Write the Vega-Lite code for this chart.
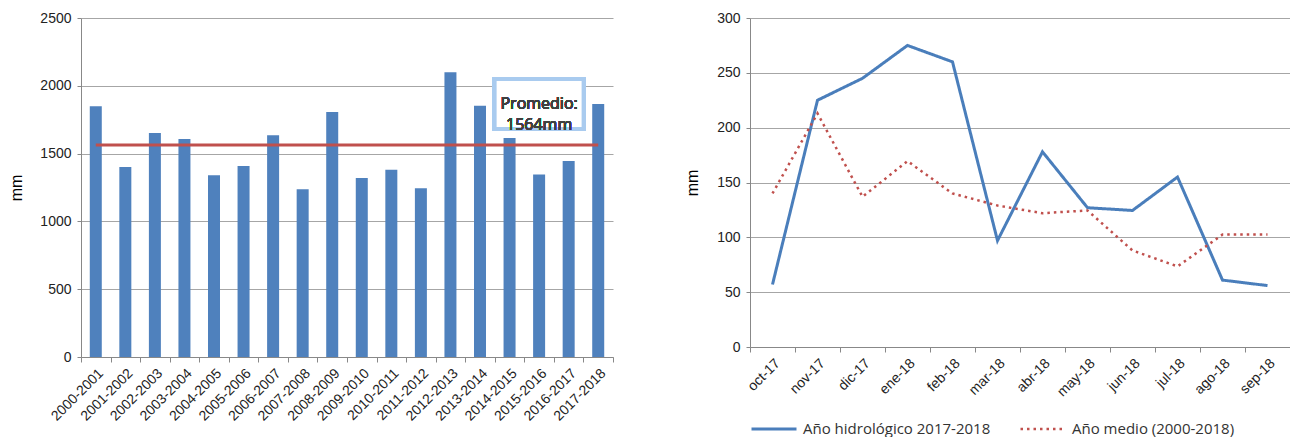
{
  "$schema": "https://vega.github.io/schema/vega-lite/v6.json",
  "background": "white",
  "padding": {"left": 8, "top": 11, "right": 0, "bottom": 0},
  "spacing": 137,
  "bounds": "flush",
  "resolve": {"legend": {"color": "independent", "strokeDash": "independent", "strokeWidth": "independent"}},
  "config": {
    "view": {"stroke": null},
    "axis": {
      "labelFont": "Liberation Sans", "labelFontSize": 14, "labelColor": "#222",
      "titleFont": "Liberation Sans", "titleFontSize": 16, "titleFontWeight": "normal", "titleColor": "#000",
      "domainColor": "#888", "tickColor": "#888", "gridColor": "#A6A6A6", "tickSize": 4, "labelPadding": 6
    },
    "legend": {"labelFont": "Open Sans", "labelFontSize": 15, "labelColor": "#333", "labelLimit": 400}
  },
  "hconcat": [
    {
      "width": 532,
      "height": 339,
      "data": {"values": [
        {"year": "2000-2001", "mm": 1849},
        {"year": "2001-2002", "mm": 1401},
        {"year": "2002-2003", "mm": 1652},
        {"year": "2003-2004", "mm": 1608},
        {"year": "2004-2005", "mm": 1340},
        {"year": "2005-2006", "mm": 1409},
        {"year": "2006-2007", "mm": 1635},
        {"year": "2007-2008", "mm": 1237},
        {"year": "2008-2009", "mm": 1807},
        {"year": "2009-2010", "mm": 1320},
        {"year": "2010-2011", "mm": 1381},
        {"year": "2011-2012", "mm": 1244},
        {"year": "2012-2013", "mm": 2100},
        {"year": "2013-2014", "mm": 1853},
        {"year": "2014-2015", "mm": 1615},
        {"year": "2015-2016", "mm": 1345},
        {"year": "2016-2017", "mm": 1445},
        {"year": "2017-2018", "mm": 1866}
      ]},
      "layer": [
        {
          "mark": {"type": "bar", "color": "#4F81BD", "width": 12},
          "encoding": {
            "x": {"field": "year", "type": "nominal", "sort": null,
              "scale": {"type": "band", "paddingInner": 0, "paddingOuter": 0},
              "axis": {"title": null, "labelAngle": -45, "tickBand": "extent", "tickSize": 5, "grid": false, "labelPadding": 4}},
            "y": {"field": "mm", "type": "quantitative",
              "scale": {"domain": [0, 2500], "nice": false},
              "axis": {"title": "mm", "format": "d", "values": [0, 500, 1000, 1500, 2000, 2500], "grid": true, "titlePadding": 15, "labelPadding": 6}}
          }
        },
        {
          "mark": {"type": "line", "color": "#C0504D", "strokeWidth": 3},
          "encoding": {
            "x": {"field": "year", "type": "nominal", "sort": null, "bandPosition": 0.5},
            "y": {"datum": 1564, "scale": {"domain": [0, 2500], "nice": false}}
          }
        },
        {
          "mark": {"type": "bar", "width": 89, "fill": "white", "stroke": "#A9CBEF", "strokeWidth": 4},
          "encoding": {
            "x": {"datum": "2015-2016"},
            "y": {"datum": 1681, "scale": {"domain": [0, 2500], "nice": false}},
            "y2": {"datum": 2050}
          }
        },
        {
          "mark": {"type": "text", "font": "Open Sans", "fontSize": 16, "fontWeight": "normal", "fill": "#404040", "stroke": null, "lineHeight": 21, "align": "center", "baseline": "middle"},
          "encoding": {
            "x": {"datum": "2015-2016", "bandPosition": 0.5},
            "y": {"datum": 1866, "scale": {"domain": [0, 2500], "nice": false}},
            "text": {"value": ["Promedio:", "1564mm"]}
          }
        }
      ]
    },
    {
      "width": 540,
      "height": 329,
      "data": {"values": [
        {"mes": "oct-17", "serie": "Año hidrológico 2017-2018", "mm": 57},
        {"mes": "nov-17", "serie": "Año hidrológico 2017-2018", "mm": 225},
        {"mes": "dic-17", "serie": "Año hidrológico 2017-2018", "mm": 245},
        {"mes": "ene-18", "serie": "Año hidrológico 2017-2018", "mm": 275},
        {"mes": "feb-18", "serie": "Año hidrológico 2017-2018", "mm": 260},
        {"mes": "mar-18", "serie": "Año hidrológico 2017-2018", "mm": 97},
        {"mes": "abr-18", "serie": "Año hidrológico 2017-2018", "mm": 178},
        {"mes": "may-18", "serie": "Año hidrológico 2017-2018", "mm": 127},
        {"mes": "jun-18", "serie": "Año hidrológico 2017-2018", "mm": 124.5},
        {"mes": "jul-18", "serie": "Año hidrológico 2017-2018", "mm": 155},
        {"mes": "ago-18", "serie": "Año hidrológico 2017-2018", "mm": 61},
        {"mes": "sep-18", "serie": "Año hidrológico 2017-2018", "mm": 56},
        {"mes": "oct-17", "serie": "Año medio (2000-2018)", "mm": 140},
        {"mes": "nov-17", "serie": "Año medio (2000-2018)", "mm": 213},
        {"mes": "dic-17", "serie": "Año medio (2000-2018)", "mm": 137},
        {"mes": "ene-18", "serie": "Año medio (2000-2018)", "mm": 169.5},
        {"mes": "feb-18", "serie": "Año medio (2000-2018)", "mm": 140},
        {"mes": "mar-18", "serie": "Año medio (2000-2018)", "mm": 129},
        {"mes": "abr-18", "serie": "Año medio (2000-2018)", "mm": 122},
        {"mes": "may-18", "serie": "Año medio (2000-2018)", "mm": 124.5},
        {"mes": "jun-18", "serie": "Año medio (2000-2018)", "mm": 88},
        {"mes": "jul-18", "serie": "Año medio (2000-2018)", "mm": 73.5},
        {"mes": "ago-18", "serie": "Año medio (2000-2018)", "mm": 102.5},
        {"mes": "sep-18", "serie": "Año medio (2000-2018)", "mm": 102.5}
      ]},
      "mark": {"type": "line"},
      "encoding": {
        "x": {"field": "mes", "type": "nominal", "sort": null, "bandPosition": 0.5,
          "scale": {"type": "band", "paddingInner": 0, "paddingOuter": 0},
          "axis": {"title": null, "labelAngle": -45, "tickBand": "extent", "tickSize": 5, "grid": false, "labelPadding": 4}},
        "y": {"field": "mm", "type": "quantitative",
          "scale": {"domain": [0, 300], "nice": false},
          "axis": {"title": "mm", "values": [0, 50, 100, 150, 200, 250, 300], "grid": true, "titlePadding": 16, "labelPadding": 6}},
        "color": {"field": "serie", "type": "nominal", "sort": null,
          "scale": {"domain": ["Año hidrológico 2017-2018", "Año medio (2000-2018)"], "range": ["#4A7EBB", "#C0504D"]},
          "legend": {"title": null, "orient": "bottom", "direction": "horizontal", "symbolType": "stroke", "symbolSize": 2025, "labelOffset": 5, "columnPadding": 24, "offset": 6}},
        "strokeDash": {"field": "serie", "type": "nominal", "sort": null,
          "scale": {"domain": ["Año hidrológico 2017-2018", "Año medio (2000-2018)"], "range": [[1, 0], [2.5, 4]]},
          "legend": {"title": null, "orient": "bottom", "direction": "horizontal", "symbolType": "stroke", "symbolSize": 2025, "labelOffset": 5, "columnPadding": 24, "offset": 6}},
        "strokeWidth": {"field": "serie", "type": "nominal", "sort": null,
          "scale": {"domain": ["Año hidrológico 2017-2018", "Año medio (2000-2018)"], "range": [3, 2.5]},
          "legend": {"title": null, "orient": "bottom", "direction": "horizontal", "symbolType": "stroke", "symbolSize": 2025, "labelOffset": 5, "columnPadding": 24, "offset": 6}}
      }
    }
  ]
}
